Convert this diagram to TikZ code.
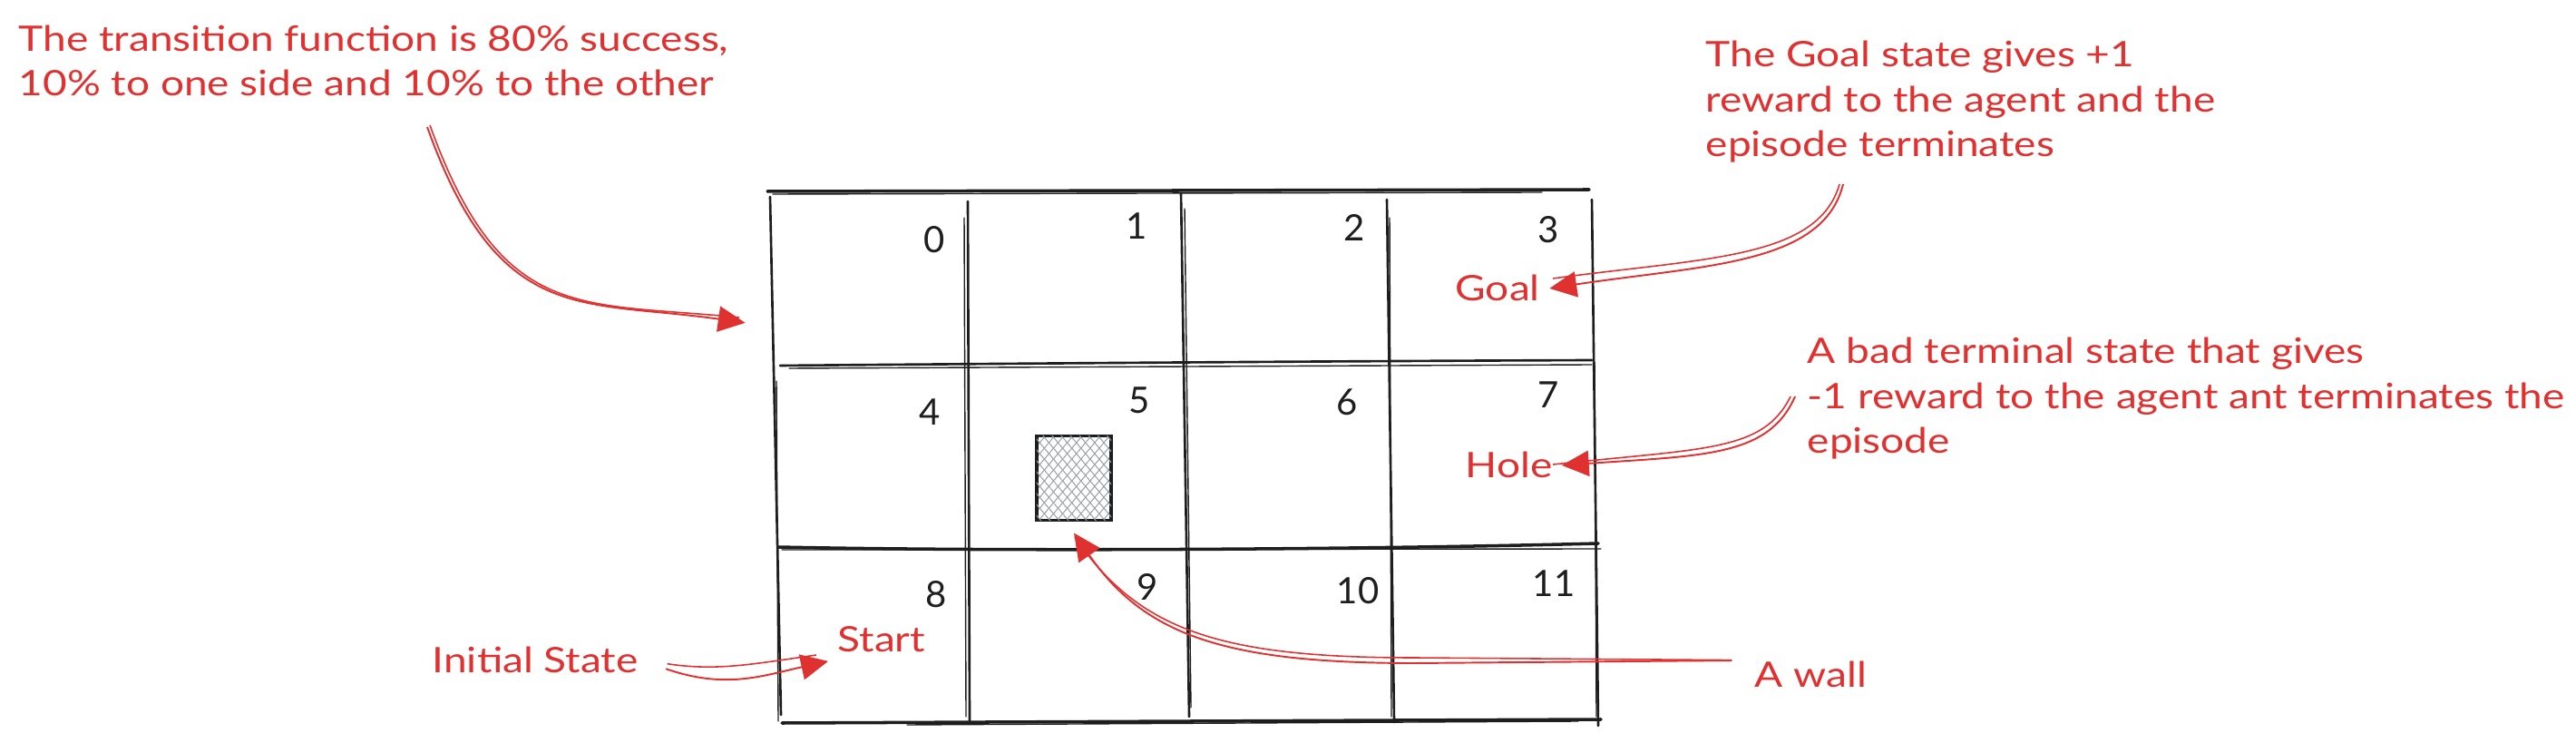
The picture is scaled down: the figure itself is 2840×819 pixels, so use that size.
\documentclass[tikz,border=0pt]{standalone}
\usepackage{fontspec}
\setmainfont{Lato}
\newfontfamily\redfont[FakeStretch=1.19]{Lato}
\usetikzlibrary{arrows.meta,patterns.meta}
\definecolor{exred}{HTML}{E03131}
\definecolor{exblack}{HTML}{1E1E1E}
\definecolor{exgray}{HTML}{9AA1A8}
\begin{document}
\begin{tikzpicture}[x=0.01cm,y=-0.01cm,
  redtxt/.style={text=exred, font=\redfont\fontsize{11}{14.2}\selectfont, inner sep=0pt, align=left, anchor=base west},
  num/.style={text=exblack, font=\fontsize{11.4}{13}\selectfont, inner sep=0pt},
  gridln/.style={draw=exblack, line width=0.75pt, line cap=round},
  gridthin/.style={draw=exblack, line width=0.4pt, line cap=round},
  cellbox/.style={draw=none, minimum width=2.26cm, minimum height=1.96cm, inner sep=0pt},
  redarrow/.style={draw=exred, line width=0.55pt, -{Triangle[length=8.5pt,width=8pt]}},
  redtwin/.style={draw=exred, line width=0.45pt},
]
\useasboundingbox (0,0) rectangle (2840,819);

% ---------- invisible cells ----------
\foreach \r in {0,1,2}{
  \foreach \c in {0,1,2,3}{
    \pgfmathtruncatemacro{\idx}{4*\r+\c}
    \node[cellbox] (c\idx) at ({965+226*\c},{307+196*\r}) {};
  }
}

% ---------- grid lines (sketchy) ----------
% horizontals
\draw[gridln, line width=1pt] (846,211) -- (1752,209);
\draw[gridthin] (852,214) -- (1700,212);
\draw[gridln] (860,403) .. controls (1200,400) and (1500,398) .. (1755,397);
\draw[gridthin] (870,406) -- (1755,402);
\draw[gridln, line width=1pt] (858,603) .. controls (1100,608) and (1500,606) .. (1762,599);
\draw[gridthin] (862,606) -- (1765,605);
\draw[gridln, line width=1pt] (862,797) -- (1765,793);
\draw[gridthin] (1000,799) -- (1740,795);
% verticals
\draw[gridln] (849,217) -- (861,788);
\draw[gridthin] (856,420) -- (858,795);
\draw[gridln] (1067,222) -- (1069,797);
\draw[gridthin] (1063,240) -- (1065,790);
\draw[gridln] (1302,213) -- (1311,790);
\draw[gridthin] (1306,230) -- (1313,780);
\draw[gridln] (1529,220) -- (1537,796);
\draw[gridthin] (1532,240) -- (1534,790);
\draw[gridln] (1755,220) -- (1762,800);
\draw[gridthin] (1758,400) -- (1760,790);

% ---------- cell numbers ----------
\node[num] (n0) at (1030,264) {0};
\node[num] (n1) at (1253,249) {1};
\node[num] (n2) at (1493,251) {2};
\node[num] (n3) at (1707,253) {3};
\node[num] (n4) at (1025,454) {4};
\node[num] (n5) at (1256,441) {5};
\node[num] (n6) at (1485,443) {6};
\node[num] (n7) at (1707,435) {7};
\node[num] (n8) at (1032,655) {8};
\node[num] (n9) at (1265,647) {9};
\node[num] (n10) at (1497,651) {10};
\node[num] (n11) at (1713,643) {11};

% ---------- wall block ----------
\node[draw=exblack, line width=1.1pt, minimum width=0.82cm, minimum height=0.93cm, inner sep=0pt,
      outer sep=4pt,
      pattern={Lines[angle=50,distance=2.2pt,line width=0.3pt]}, pattern color=exgray,
      postaction={pattern={Lines[angle=-50,distance=2.2pt,line width=0.3pt]}, pattern color=exgray}]
      (wall) at (1184,527) {};

% ---------- red labels (anchor = baseline of last line) ----------
\node[redtxt] (t1) at (20,106) {The transition function is 80\% success,\\10\% to one side and 10\% to the other};
\node[redtxt] (t2) at (1880,173) {The Goal state gives +1\\reward to the agent and the\\episode terminates};
\node[redtxt] (t3) at (1992,500) {A bad terminal state that gives\\-1 reward to the agent ant terminates the\\episode};
\node[redtxt, outer xsep=3pt] (lgoal) at (1594,332) {Goal};
\node[redtxt, outer xsep=3pt] (lhole) at (1605,527) {Hole};
\node[redtxt, outer sep=3pt] (lstart) at (913,718) {Start};
\node[redtxt] (linit) at (476,741) {Initial State};
\node[redtxt] (lwall) at (1934,757) {A wall};

% ---------- arrow tails ----------
\coordinate (trtail) at (471,140);
\coordinate (goaltail) at (2032,203);
\coordinate (holetail) at (1979,437);

% ---------- arrows ----------
% transition
\draw[redtwin] ([shift={(3,-2)}]trtail) .. controls (553,358) and (640,332) .. (815,350);
\draw[redarrow, shorten >=8.5pt] (trtail) .. controls (550,360) and (640,330) .. (c0.205);
% goal
\draw[redtwin] ([shift={(-4,0)}]goaltail) .. controls (2004,286) and (1880,284) .. (1712,307);
\draw[redarrow] (goaltail) .. controls (2010,292) and (1880,292) .. (lgoal.east);
% hole
\draw[redtwin] ([shift={(-5,0)}]holetail) .. controls (1944,498) and (1880,494) .. (1712,512);
\draw[redarrow] (holetail) .. controls (1950,503) and (1880,502) .. (lhole.east);
% initial state
\draw[redtwin, shorten <=9pt] (linit.east) .. controls (790,740) and (830,732) .. (900,722);
\draw[redarrow, shorten <=9pt] (linit.east) .. controls (800,760) and (840,745) .. (lstart.south west);
% wall
\draw[redtwin, shorten <=7pt] (lwall.north west) -- (1560,725) .. controls (1345,725) and (1255,695) .. (1185,592);
\draw[redarrow, shorten <=7pt] (lwall.north west) -- (1560,731) .. controls (1350,731) and (1262,700) .. (wall.south);
\end{tikzpicture}
\end{document}
